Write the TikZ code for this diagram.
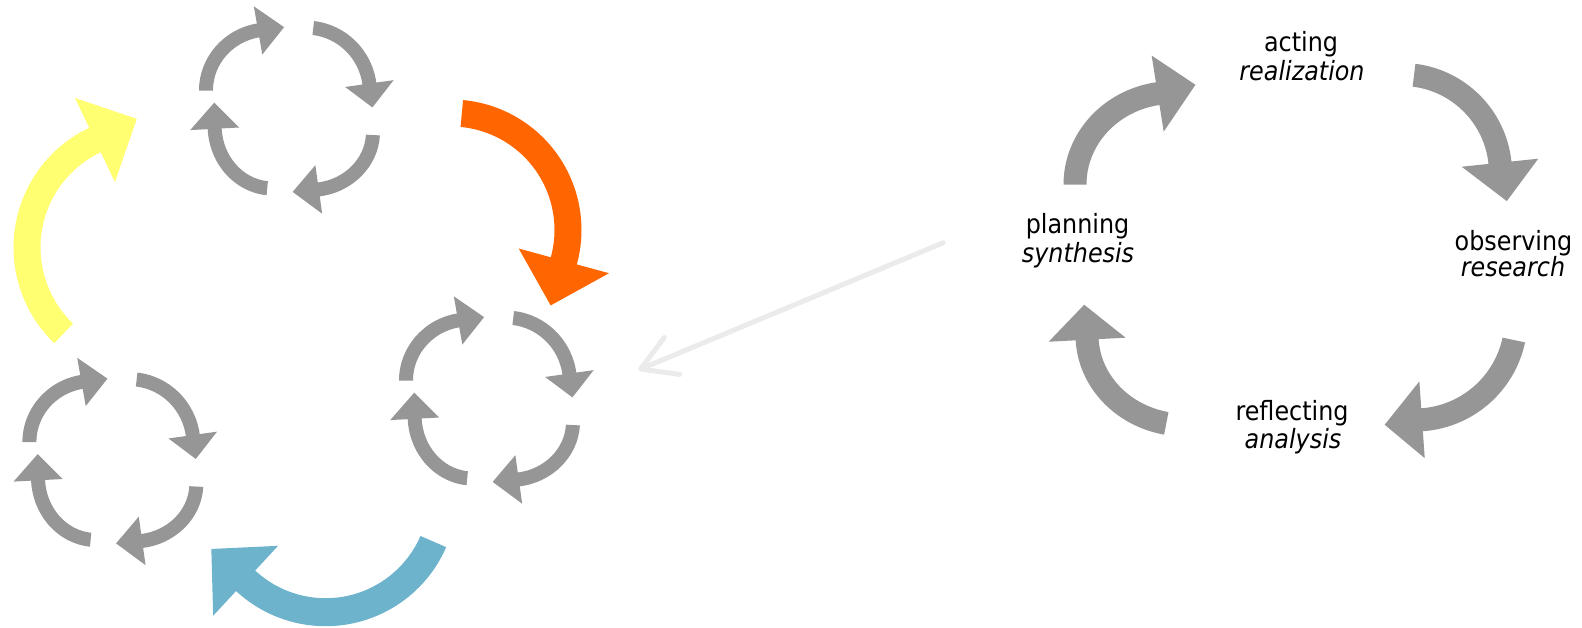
\documentclass[tikz,border=0pt]{standalone}
\usepackage{fontspec}
\setmainfont{DejaVu Sans}[FakeStretch=0.9]
\usetikzlibrary{arrows.meta}

\definecolor{cyclegrey}{RGB}{150,150,150}
\definecolor{loopyellow}{RGB}{255,255,113}
\definecolor{looporange}{RGB}{255,102,0}
\definecolor{loopblue}{RGB}{109,179,204}
\definecolor{linkgrey}{RGB}{235,235,235}

% Curved block arrow around the origin of the current scope.
% #1 x radius, #2 y radius (centre line), #3 half shaft width,
% #4 tail angle, #5 head base angle, #6 half head width,
% #7 tip angle, #8 tip offset beyond the centre line
\newcommand{\bentarrow}[8]{%
  \pgfmathsetmacro\arrOxr{#1+#3}\pgfmathsetmacro\arrOyr{#2+#3}%
  \pgfmathsetmacro\arrIxr{#1-#3}\pgfmathsetmacro\arrIyr{#2-#3}%
  \fill ({(#1+#3)*cos(#4)},{(#2+#3)*sin(#4)})
    arc[start angle=#4, end angle=#5, x radius=\arrOxr, y radius=\arrOyr]
    -- ({(#1+#6)*cos(#5)},{(#2+#6)*sin(#5)})
    -- ({(#1+#8)*cos(#7)},{(#2+#8)*sin(#7)})
    -- ({(#1-#6)*cos(#5)},{(#2-#6)*sin(#5)})
    -- ({(#1-#3)*cos(#5)},{(#2-#3)*sin(#5)})
    arc[start angle=#5, end angle=#4, x radius=\arrIxr, y radius=\arrIyr]
    -- cycle;}

% One small four-arrow cycle around the origin of the current scope
\newcommand{\minicycle}{%
  \begin{scope}[shift={(-20.5,19.5)}]\bentarrow{63}{61}{7}{180}{100}{24.5}{77}{4}\end{scope}
  \begin{scope}[shift={(16.5,17.4)}]\bentarrow{64}{65}{7}{83.5}{8}{24.5}{-12.4}{4}\end{scope}
  \begin{scope}[shift={(20.5,-22)}]\bentarrow{63}{58}{7}{-3}{-82}{24.5}{-105}{4}\end{scope}
  \begin{scope}[shift={(-16.9,-15.5)}]\bentarrow{58}{63}{7}{264.7}{183}{24.5}{160}{4}\end{scope}}

\tikzset{
  lbl/.style={font=\fontsize{26.5}{30}\selectfont, inner sep=0pt, anchor=base, text=black},
  lblit/.style={lbl, font=\fontsize{26.5}{30}\selectfont\itshape},
  link/.style={draw=linkgrey, line width=5pt, line cap=round,
    -{Straight Barb[length=34pt, width=40pt, round]}}
}

\begin{document}
\begin{tikzpicture}[x=1pt, y=1pt]
\useasboundingbox (0,0) rectangle (1582,-627);

% ---- small cycles ----
\begin{scope}[shift={(289.5,-110)}, fill=cyclegrey]\minicycle\end{scope}
\begin{scope}[shift={(112.9,-461.5)}, fill=cyclegrey]\minicycle\end{scope}
\begin{scope}[shift={(489.5,-400)}, fill=cyclegrey]\minicycle\end{scope}

% ---- coloured arrows between the small cycles ----
\begin{scope}[shift={(146,-247.5)}, fill=loopyellow]
  \bentarrow{119}{119}{13.5}{226.2}{115.4}{46.5}{94.1}{10}
\end{scope}
\begin{scope}[shift={(451,-230)}, fill=looporange]
  \bentarrow{117}{117}{13.5}{84.7}{-15.3}{46.8}{-37.1}{8}
\end{scope}
\begin{scope}[shift={(325.6,-494.7)}, fill=loopblue]
  \bentarrow{117.5}{117.5}{14}{-23.5}{-132.9}{47.7}{-154.6}{9}
\end{scope}

% ---- large cycle ----
\begin{scope}[fill=cyclegrey]
  \begin{scope}[shift={(1173,-184.5)}]\bentarrow{98}{92}{11.5}{180}{99}{38.5}{78}{10}\end{scope}
  \begin{scope}[shift={(1402,-173)}]\bentarrow{98.5}{98.5}{11.5}{83}{6}{38.5}{-15}{10}\end{scope}
  \begin{scope}[shift={(1415,-319)}]\bentarrow{101}{101}{11.5}{-12}{-86}{38.5}{-106}{9}\end{scope}
  \begin{scope}[shift={(1185,-335)}]\bentarrow{98}{90}{11.5}{259}{183}{38.5}{162}{8}\end{scope}
\end{scope}

% ---- labels of the large cycle ----
\node[lbl]   (acting)     at (1301,-51.7)  {acting};
\node[lblit] (realiz)     at (1302,-80)    {realization};
\node[lbl]   (observing)  at (1513.5,-250) {observing};
\node[lblit] (research)   at (1513,-276.7) {research};
\node[lbl]   (reflecting) at (1292,-420)   {reflecting};
\node[lblit] (analysis)   at (1293,-448.5) {analysis};
\node[lbl]   (planning)   at (1077.5,-233.3) {planning};
\node[lblit] (synthesis)  at (1078,-262.7) {synthesis};

% ---- zoom link from the large cycle to one small cycle ----
\coordinate (linkfrom) at (943.3,-242.7);
\coordinate (linkto)   at (638.3,-370);
\draw[link] (linkfrom) -- (linkto);
\end{tikzpicture}
\end{document}
